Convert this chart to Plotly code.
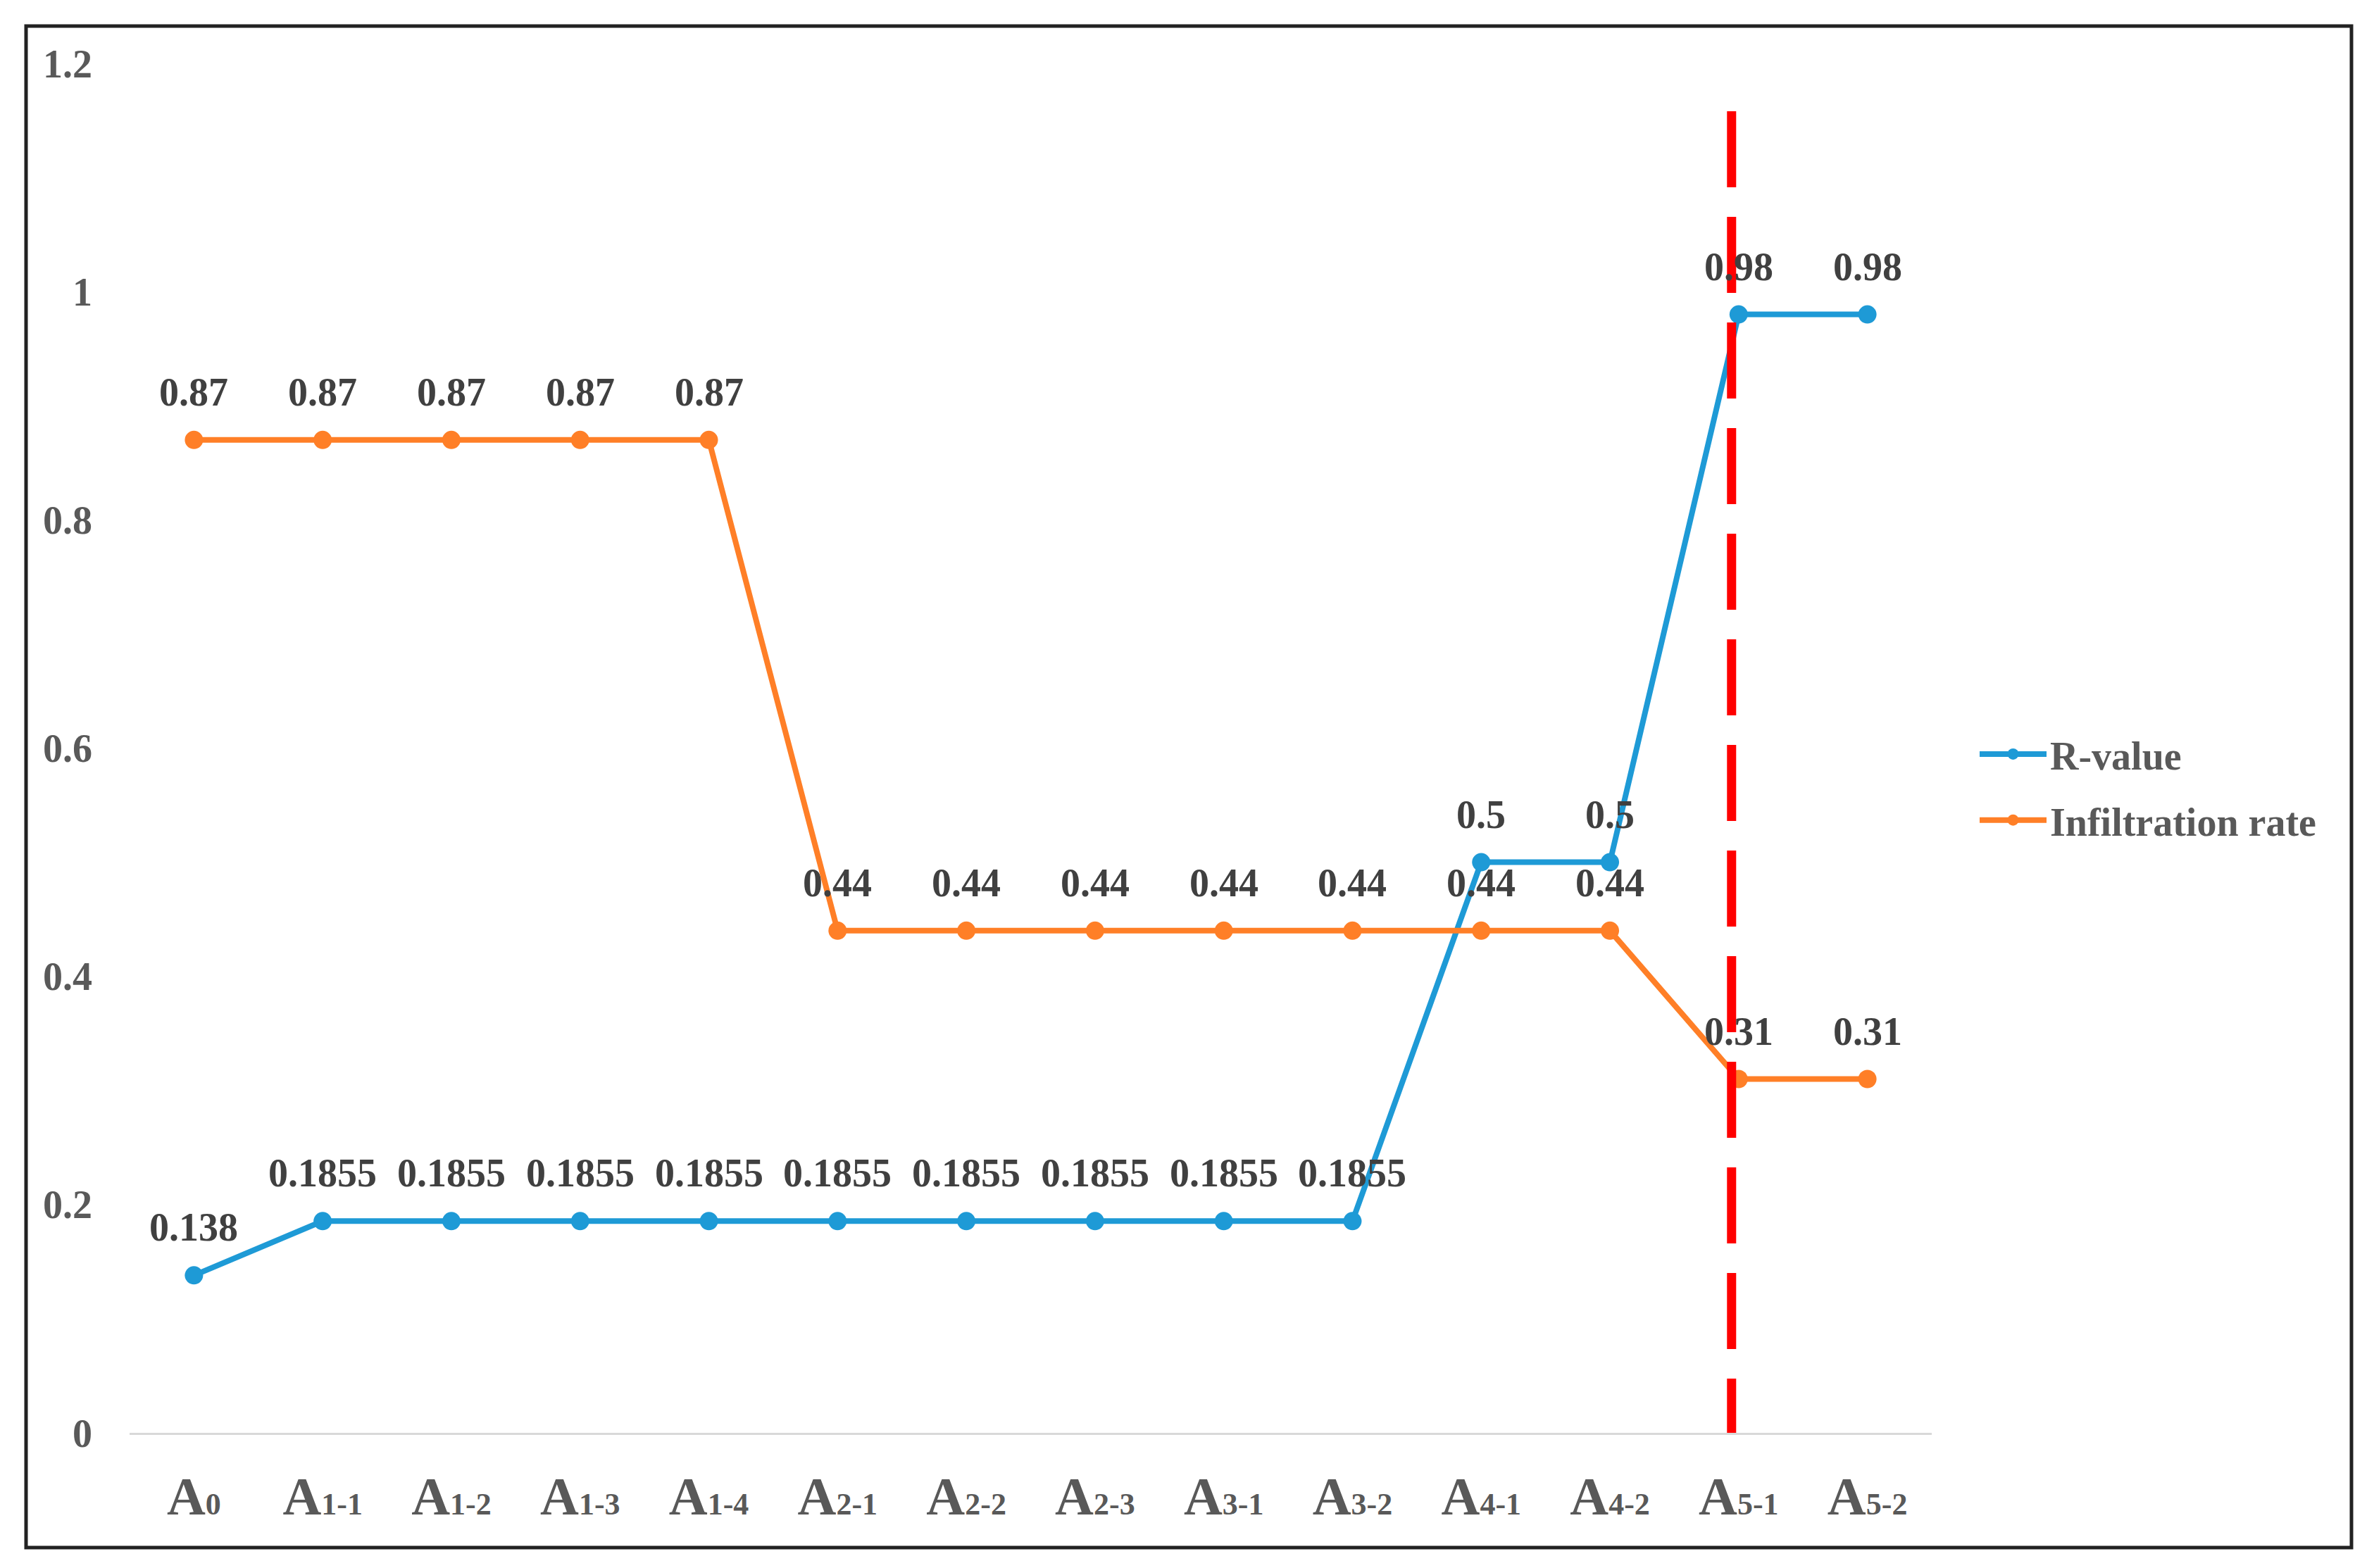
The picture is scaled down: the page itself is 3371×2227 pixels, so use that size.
import plotly.graph_objects as go

categories = ["A0", "A1-1", "A1-2", "A1-3", "A1-4", "A2-1", "A2-2", "A2-3",
              "A3-1", "A3-2", "A4-1", "A4-2", "A5-1", "A5-2"]
r_value = [0.138, 0.1855, 0.1855, 0.1855, 0.1855, 0.1855, 0.1855, 0.1855,
           0.1855, 0.1855, 0.5, 0.5, 0.98, 0.98]
infiltration = [0.87, 0.87, 0.87, 0.87, 0.87, 0.44, 0.44, 0.44,
                0.44, 0.44, 0.44, 0.44, 0.31, 0.31]
y_tickvals = [0, 0.2, 0.4, 0.6, 0.8, 1.0, 1.2]
y_ticktext = ["0", "0.2", "0.4", "0.6", "0.8", "1", "1.2"]
ref_line_x = 11.945   # category index position of the red dashed line
ref_line_top = 1.158

SERIF = "Times New Roman, Liberation Serif, serif"
BLUE = "#1E9AD6"
ORANGE = "#FF7F27"
LABEL_FONT = dict(family=SERIF, size=56, color="#404040", weight="bold")


def tick_label(c):
    head, sub = c[0], c[1:]
    return f'{head}<span style="font-size:44px">{sub}</span>'


ticktext_x = [tick_label(c) for c in categories]

fig = go.Figure()
for name, vals, col in [("R-value", r_value, BLUE), ("Infiltration rate", infiltration, ORANGE)]:
    fig.add_trace(go.Scatter(
        x=categories, y=vals, name=name, mode="lines+markers", legendgroup=name,
        line=dict(color=col, width=8), marker=dict(color=col, size=26),
        cliponaxis=False,
    ))
    for c, v in zip(categories, vals):
        fig.add_annotation(x=c, y=v, text=str(v), showarrow=False, xref="x", yref="y",
                           yshift=68, yanchor="middle", xanchor="center", font=LABEL_FONT)

# plot area geometry (pixels) used for the outer frame in paper coords
W, H = 3371, 2227
L, R, T, B = 176, 636, 82, 200
pw, ph = W - L - R, H - T - B


def px_x(p):
    return (p - L) / pw


def px_y(p):
    return (H - B - p) / ph


fig.add_shape(type="line", xref="x", yref="y",
              x0=ref_line_x, x1=ref_line_x, y0=ref_line_top, y1=0,
              line=dict(color="#FF0000", width=13, dash="108px,42px"), layer="above")
fig.add_shape(type="rect", xref="paper", yref="paper",
              x0=px_x(29), x1=px_x(3331), y0=px_y(29), y1=px_y(2190),
              line=dict(color="#222222", width=5), layer="above")

fig.update_layout(
    width=W, height=H,
    margin=dict(l=L, r=R, t=T, b=B, autoexpand=False),
    paper_bgcolor="white", plot_bgcolor="white",
    font=dict(family=SERIF, color="#595959", size=56, weight="bold"),
    showlegend=True,
    legend=dict(x=px_x(2798), y=px_y(1110), xanchor="left", yanchor="middle",
                font=dict(family=SERIF, size=56, color="#595959", weight="bold"),
                traceorder="grouped", tracegroupgap=18,
                itemwidth=95, bgcolor="rgba(0,0,0,0)"),
    xaxis=dict(type="category", range=[-0.5, 13.5], tickmode="array",
               tickvals=categories, ticktext=ticktext_x,
               tickfont=dict(family=SERIF, size=76, color="#595959", weight="bold"),
               showline=True, linecolor="#D9D9D9", linewidth=3, showgrid=False,
               ticks="", ticklabelstandoff=22, automargin=False, zeroline=False),
    yaxis=dict(range=[0, 1.2], tickmode="array", tickvals=y_tickvals, ticktext=y_ticktext,
               tickfont=dict(family=SERIF, size=56, color="#595959", weight="bold"),
               showgrid=False, zeroline=False, showline=False, ticks="",
               ticklabelstandoff=52, automargin=False),
)

fig.write_html("out.html")
